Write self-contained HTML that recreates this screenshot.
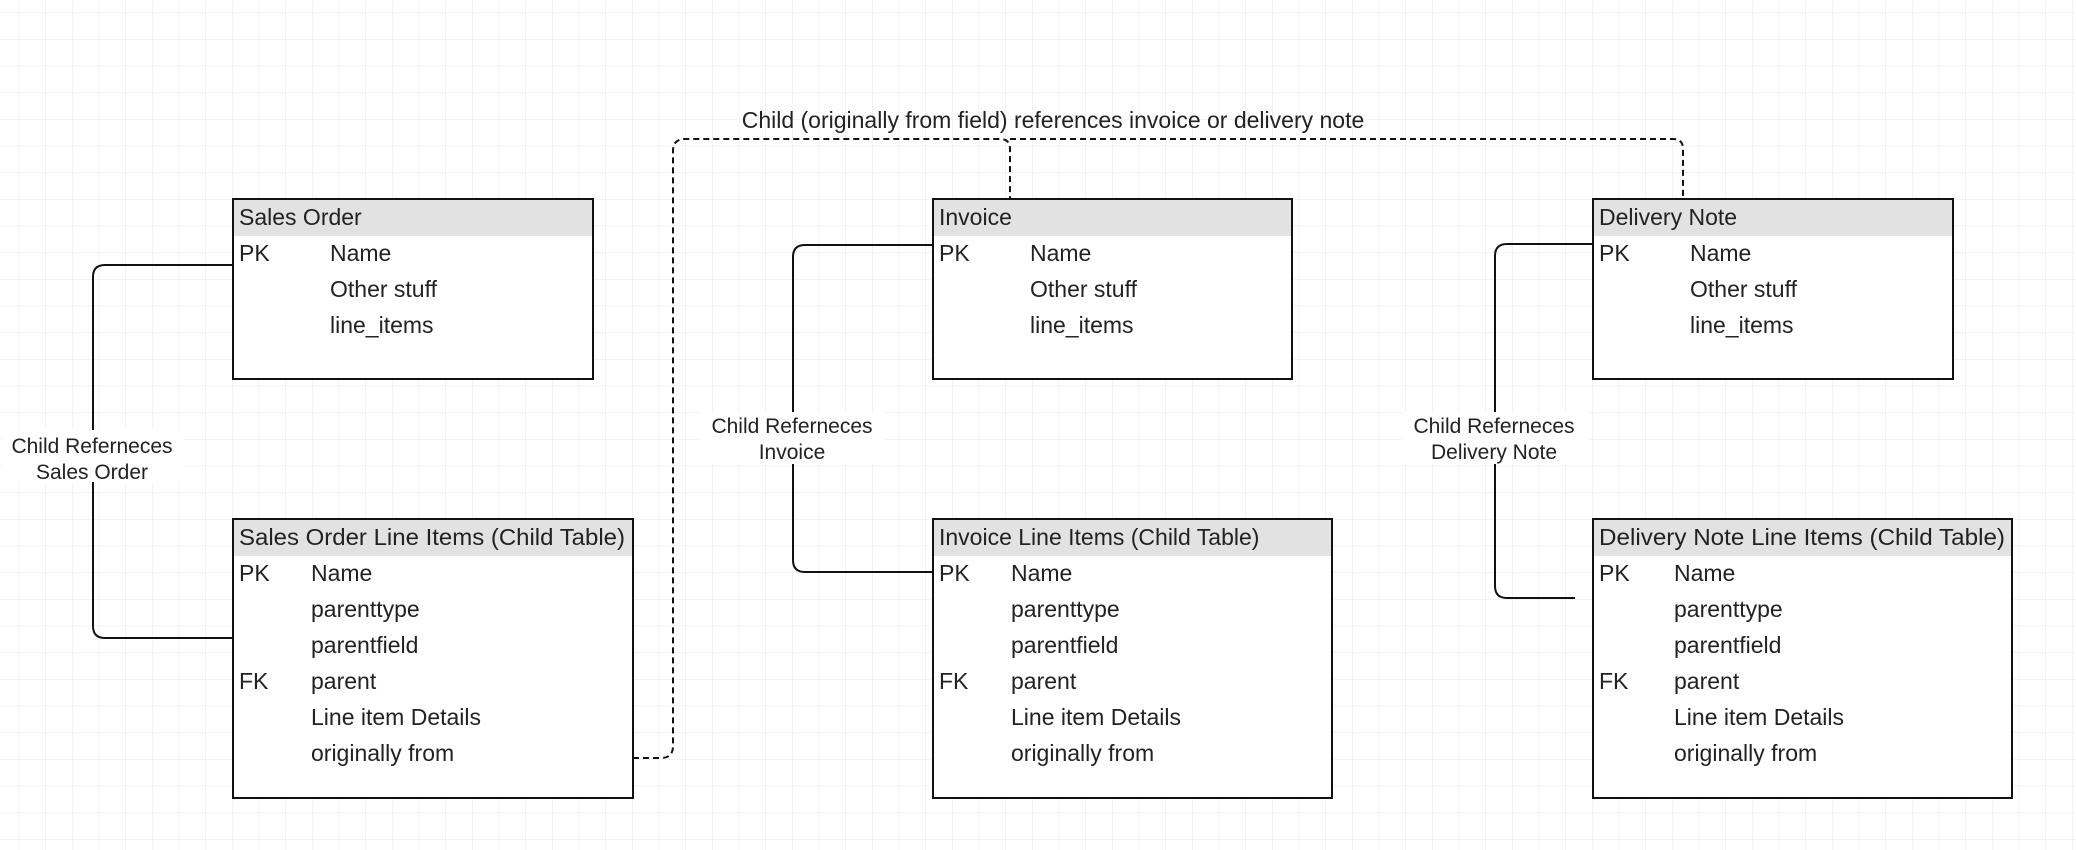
<!DOCTYPE html>
<html><head><meta charset="utf-8"><style>
html,body{margin:0;padding:0;background:#fff;}
svg{display:block;font-family:"Liberation Sans",Arial,sans-serif;}
</style></head><body>
<svg width="2076" height="850" viewBox="0 0 2076 850" xmlns="http://www.w3.org/2000/svg">
<defs>
<pattern id="g" x="18.7" y="12.3" width="26.667" height="26.667" patternUnits="userSpaceOnUse">
<path d="M0 0H26.667M0 0V26.667" stroke="#e6e6e6" stroke-width="1" fill="none"/>
</pattern>
</defs>
<rect width="2076" height="850" fill="#fff"/>
<rect width="2076" height="850" fill="url(#g)"/>

<g fill="none" stroke="#111" stroke-width="2">
<path d="M233 265 H105 Q93 265 93 277 V626 Q93 638 105 638 H233"/>
<path d="M933 245 H805 Q793 245 793 257 V560 Q793 572 805 572 H933"/>
<path d="M1593 244 H1507 Q1495 244 1495 256 V586 Q1495 598 1507 598 H1575"/>
<path d="M633 758 H661 Q673 758 673 746 V151 Q673 139 685 139 H1000 Q1010 139 1010 149 V199" stroke-dasharray="6 4"/>
<path d="M1010 139 H1673 Q1683 139 1683 149 V199" stroke-dasharray="6 4"/>
</g>

<g fill="#fff">
<rect x="2" y="430" width="182" height="52"/>
<rect x="702" y="412" width="182" height="52"/>
<rect x="1402" y="412" width="186" height="52"/>
</g>
<g font-size="21" fill="#222" text-anchor="middle">
<text x="92" y="453">Child Referneces</text>
<text x="92" y="479">Sales Order</text>
<text x="792" y="433">Child Referneces</text>
<text x="792" y="459">Invoice</text>
<text x="1494" y="433">Child Referneces</text>
<text x="1494" y="459">Delivery Note</text>
<text x="1053" y="128" font-size="23">Child (originally from field) references invoice or delivery note</text>
</g>

<g font-size="23" fill="#222">
<rect x="233" y="199" width="360" height="180" fill="#fff" stroke="#111" stroke-width="2"/>
<rect x="234" y="200" width="358" height="36" fill="#e2e2e2"/>
<text x="239" y="225">Sales Order</text>
<text x="239" y="261">PK</text><text x="330" y="261">Name</text>
<text x="330" y="297">Other stuff</text>
<text x="330" y="333">line_items</text>

<rect x="233" y="519" width="400" height="279" fill="#fff" stroke="#111" stroke-width="2"/>
<rect x="234" y="520" width="398" height="36" fill="#e2e2e2"/>
<text x="239" y="545" textLength="386" lengthAdjust="spacingAndGlyphs">Sales Order Line Items (Child Table)</text>
<text x="239" y="581">PK</text><text x="311" y="581">Name</text>
<text x="311" y="617">parenttype</text>
<text x="311" y="653">parentfield</text>
<text x="239" y="689">FK</text><text x="311" y="689">parent</text>
<text x="311" y="725">Line item Details</text>
<text x="311" y="761">originally from</text>

<rect x="933" y="199" width="359" height="180" fill="#fff" stroke="#111" stroke-width="2"/>
<rect x="934" y="200" width="357" height="36" fill="#e2e2e2"/>
<text x="939" y="225">Invoice</text>
<text x="939" y="261">PK</text><text x="1030" y="261">Name</text>
<text x="1030" y="297">Other stuff</text>
<text x="1030" y="333">line_items</text>

<rect x="933" y="519" width="399" height="279" fill="#fff" stroke="#111" stroke-width="2"/>
<rect x="934" y="520" width="397" height="36" fill="#e2e2e2"/>
<text x="939" y="545">Invoice Line Items (Child Table)</text>
<text x="939" y="581">PK</text><text x="1011" y="581">Name</text>
<text x="1011" y="617">parenttype</text>
<text x="1011" y="653">parentfield</text>
<text x="939" y="689">FK</text><text x="1011" y="689">parent</text>
<text x="1011" y="725">Line item Details</text>
<text x="1011" y="761">originally from</text>

<rect x="1593" y="199" width="360" height="180" fill="#fff" stroke="#111" stroke-width="2"/>
<rect x="1594" y="200" width="358" height="36" fill="#e2e2e2"/>
<text x="1599" y="225">Delivery Note</text>
<text x="1599" y="261">PK</text><text x="1690" y="261">Name</text>
<text x="1690" y="297">Other stuff</text>
<text x="1690" y="333">line_items</text>

<rect x="1593" y="519" width="419" height="279" fill="#fff" stroke="#111" stroke-width="2"/>
<rect x="1594" y="520" width="417" height="36" fill="#e2e2e2"/>
<text x="1599" y="545" textLength="406" lengthAdjust="spacingAndGlyphs">Delivery Note Line Items (Child Table)</text>
<text x="1599" y="581">PK</text><text x="1674" y="581">Name</text>
<text x="1674" y="617">parenttype</text>
<text x="1674" y="653">parentfield</text>
<text x="1599" y="689">FK</text><text x="1674" y="689">parent</text>
<text x="1674" y="725">Line item Details</text>
<text x="1674" y="761">originally from</text>
</g>
</svg>
</body></html>
